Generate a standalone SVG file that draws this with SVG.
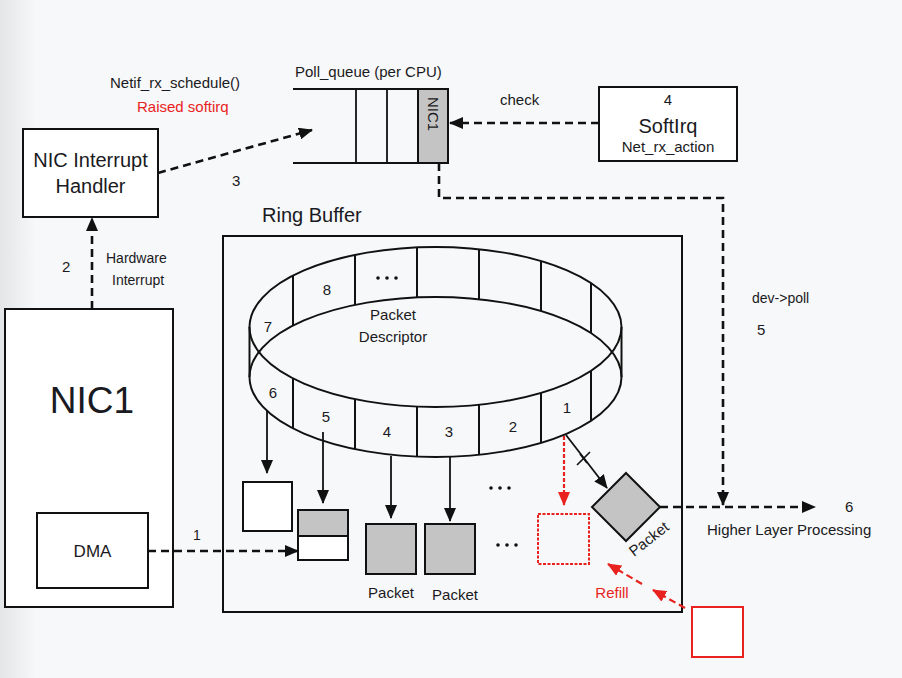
<svg xmlns="http://www.w3.org/2000/svg" width="902" height="678" viewBox="0 0 902 678">
<defs>
<marker id="ah" viewBox="0 0 14 12" refX="13" refY="6" markerWidth="14" markerHeight="12" orient="auto" markerUnits="userSpaceOnUse"><path d="M0,0 L14,6 L0,12 z" fill="#111"/></marker>
<marker id="ahr" viewBox="0 0 14 12" refX="13" refY="6" markerWidth="14" markerHeight="12" orient="auto" markerUnits="userSpaceOnUse"><path d="M0,0 L14,6 L0,12 z" fill="#e8231f"/></marker>
<linearGradient id="bg" x1="0" y1="0" x2="1" y2="0"><stop offset="0" stop-color="#e4e5e6"/><stop offset="0.04" stop-color="#f7f8f9"/><stop offset="1" stop-color="#f7f8f9"/></linearGradient>
</defs>
<style>
text{font-family:"Liberation Sans",Arial,sans-serif;fill:#1a1a22}
.box{fill:#fff;stroke:#111;stroke-width:2}
.gray{fill:#c4c4c4;stroke:#111;stroke-width:2}
.dash{fill:none;stroke:#111;stroke-width:2.6;stroke-dasharray:8,5}
.solid{fill:none;stroke:#111;stroke-width:1.8}
.rdash{fill:none;stroke:#e8231f;stroke-width:2.2;stroke-dasharray:7,4}
.s15{font-size:15px}
.s20{font-size:20px}
.ring{fill:none;stroke:#111;stroke-width:2}
.dot{fill:#111}
</style>
<rect width="902" height="678" fill="url(#bg)"/>

<g id="nic-handler">
<rect class="box" x="23" y="129" width="135" height="88"/>
<text class="s20" x="90.5" y="167" text-anchor="middle">NIC Interrupt</text>
<text class="s20" x="90.5" y="193" text-anchor="middle">Handler</text>
</g>

<g id="nic1">
<rect class="box" x="5" y="309" width="168" height="298"/>
<text x="92" y="413" text-anchor="middle" font-size="37">NIC1</text>
</g>

<g id="dma">
<rect class="box" x="37" y="513" width="111" height="75"/>
<text x="92.5" y="557" text-anchor="middle" font-size="17">DMA</text>
</g>

<g id="poll-queue">
<text class="s15" x="295" y="77">Poll_queue (per CPU)</text>
<path class="solid" d="M293,89 H448 M293,163 H448 M356,89 V163 M387,89 V163"/>
<rect class="gray" x="418" y="89" width="30" height="74"/>
<text class="s15" transform="translate(427.5,114) rotate(90)" text-anchor="middle">NIC1</text>
</g>

<g id="softirq">
<rect class="box" x="599" y="87" width="138" height="74"/>
<text class="s15" x="668" y="105" text-anchor="middle">4</text>
<text class="s20" x="668" y="133" text-anchor="middle">SoftIrq</text>
<text class="s15" x="668" y="152" text-anchor="middle">Net_rx_action</text>
</g>

<g id="ring-buffer">
<text class="s20" x="262" y="222">Ring Buffer</text>
<rect x="223" y="236" width="459" height="376" fill="none" stroke="#111" stroke-width="2"/>
<ellipse class="ring" cx="435.5" cy="327" rx="186" ry="80"/>
<ellipse class="ring" cx="435.5" cy="377" rx="186" ry="80"/>
<path class="ring" d="M249.5,327 V377 M621.5,327 V377"/>
<path class="ring" d="M293,276 V326 M355,255 V305 M417,247.5 V297.5 M479,249.5 V299.5 M541,261 V311 M591,283 V333"/>
<path class="ring" d="M293,378 V428 M355,399 V449 M417,406.5 V456.5 M479,404.5 V454.5 M541,393 V443 M591,371 V421"/>
<text class="s15" x="327" y="295" text-anchor="middle">8</text>
<circle class="dot" cx="378" cy="278" r="1.8"/><circle class="dot" cx="387" cy="278" r="1.8"/><circle class="dot" cx="396" cy="278" r="1.8"/>
<text class="s15" x="268" y="332" text-anchor="middle">7</text>
<text class="s15" x="273" y="398" text-anchor="middle">6</text>
<text class="s15" x="326" y="422" text-anchor="middle">5</text>
<text class="s15" x="387" y="437" text-anchor="middle">4</text>
<text class="s15" x="449" y="437" text-anchor="middle">3</text>
<text class="s15" x="513" y="432" text-anchor="middle">2</text>
<text class="s15" x="567" y="413" text-anchor="middle">1</text>
<text class="s15" x="393" y="320" text-anchor="middle">Packet</text>
<text class="s15" x="393" y="342" text-anchor="middle">Descriptor</text>
</g>

<g id="buf-empty">
<rect class="box" x="243" y="482" width="49" height="49"/>
</g>
<g id="buf-split">
<rect class="box" x="298" y="510" width="50" height="50"/>
<rect class="gray" x="298" y="510" width="50" height="26"/>
</g>
<g id="packet-a">
<rect class="gray" x="366" y="524" width="50" height="50"/>
<text class="s15" x="391" y="598" text-anchor="middle">Packet</text>
</g>
<g id="packet-b">
<rect class="gray" x="425" y="524" width="50" height="50"/>
<text class="s15" x="455" y="600" text-anchor="middle">Packet</text>
</g>
<g id="dots">
<circle class="dot" cx="491" cy="488" r="1.8"/><circle class="dot" cx="500" cy="488" r="1.8"/><circle class="dot" cx="509" cy="488" r="1.8"/>
<circle class="dot" cx="498" cy="545" r="1.8"/><circle class="dot" cx="507" cy="545" r="1.8"/><circle class="dot" cx="516" cy="545" r="1.8"/>
</g>
<g id="refill-slot">
<rect x="538" y="514" width="51" height="50" fill="none" stroke="#e8231f" stroke-width="2" stroke-dasharray="3,1.5"/>
</g>
<g id="packet-out">
<path class="gray" d="M626,473 L660,507 L626,541 L592,507 Z"/>
<text class="s15" transform="translate(652,543) rotate(-38)" text-anchor="middle">Packet</text>
</g>
<g id="new-buffer">
<rect x="692" y="607" width="51" height="50" fill="#fff" stroke="#e8231f" stroke-width="2"/>
</g>

<g id="labels">
<text class="s15" x="110" y="88">Netif_rx_schedule()</text>
<text class="s15" x="137" y="112" style="fill:#e8231f">Raised softirq</text>
<text class="s15" x="62" y="272">2</text>
<text x="106" y="263" font-size="14">Hardware</text>
<text x="112" y="285" font-size="14">Interrupt</text>
<text class="s15" x="232" y="186">3</text>
<text class="s15" x="500" y="105">check</text>
<text x="752" y="303" font-size="14">dev-&gt;poll</text>
<text class="s15" x="757" y="335">5</text>
<text x="193" y="540" font-size="14">1</text>
<text class="s15" x="845" y="512">6</text>
<text class="s15" x="707" y="535">Higher Layer Processing</text>
<text class="s15" x="612" y="598" text-anchor="middle" style="fill:#e8231f">Refill</text>
</g>

<g id="connectors">
<path class="dash" d="M92,309 V218" marker-end="url(#ah)"/>
<path class="dash" d="M158,173 L312,130" marker-end="url(#ah)"/>
<path class="dash" d="M599,123 H450" marker-end="url(#ah)"/>
<path class="dash" d="M439,163 V198 H723 V505" marker-end="url(#ah)"/>
<path class="dash" d="M660,507 H815" marker-end="url(#ah)"/>
<path class="dash" d="M148,551 H298" marker-end="url(#ah)"/>
<path class="solid" d="M267,411 V473" marker-end="url(#ah)"/>
<path class="solid" d="M323,432 V503" marker-end="url(#ah)"/>
<path class="solid" d="M391,456 V518" marker-end="url(#ah)"/>
<path class="solid" d="M450,456 V521" marker-end="url(#ah)"/>
<path class="solid" d="M566,435 L607,488" marker-end="url(#ah)"/>
<path d="M577,465 L590,452 M580,454 L587,463" stroke="#111" stroke-width="1.6"/>
<path d="M564,436 V505" fill="none" stroke="#e8231f" stroke-width="2.2" stroke-dasharray="4,2" marker-end="url(#ahr)"/>
<path class="rdash" d="M685,608 L653,590" marker-end="url(#ahr)"/>
<path class="rdash" d="M642,584 L608,564" marker-end="url(#ahr)"/>
</g>
</svg>
